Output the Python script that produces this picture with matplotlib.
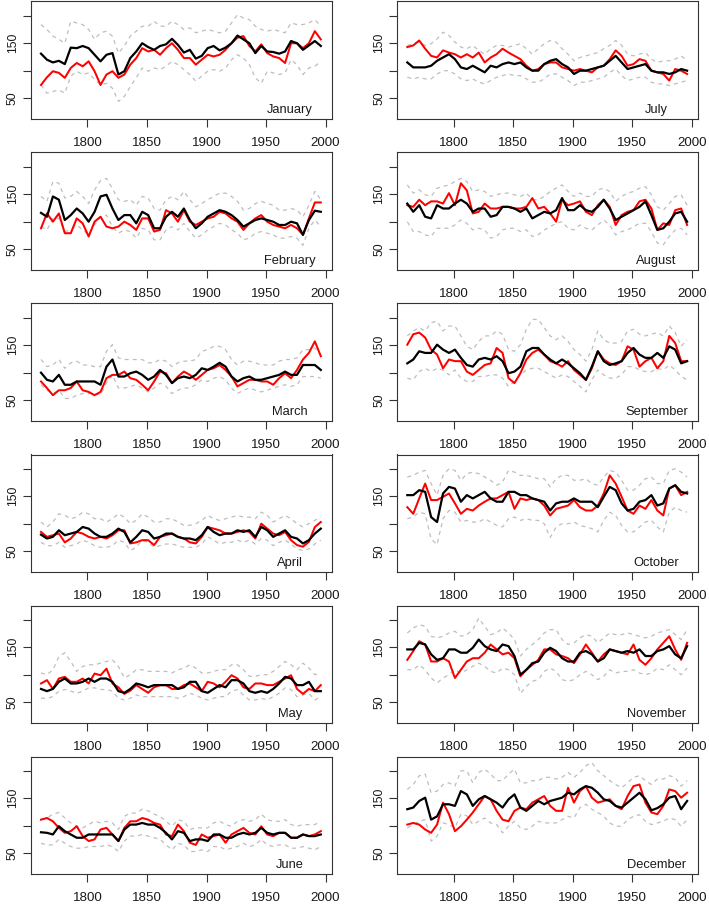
import matplotlib
matplotlib.use('Agg')
import matplotlib.pyplot as plt

plt.rcParams['font.family'] = ['Liberation Sans', 'DejaVu Sans']

years = list(range(1761, 1997, 5))

# ---------------- January ----------------
jan_black = [131,120,115,118,112,142,141,145, 141,129,117,129,132,93,99,123,
             135,150,143,138,145,148,158,147, 133,138,122,127,141,145,137,142,
             150,164,157,150,132,145,135,134, 131,135,154,150,138,146,154,145]
jan_red = [74,88,99,96,87,105,114,108, 117,99,74,93,99,87,93,111,
           123,141,135,138,129,141,150,138, 123,123,111,120,129,126,129,138,
           150,160,163,145,135,148,132,126, 123,114,150,150,141,150,172,157]
jan_upper = [184,175,163,157,150,190,187,184, 175,157,169,172,163,132,145,163,
             172,181,181,190,181,181,190,184, 175,178,169,172,175,172,169,172,
             187,202,196,193,181,175,172,175, 172,169,187,184,184,187,193,181]
jan_lower = [74,59,62,65,59,90,99,93, 96,84,74,77,68,44,53,71,
             87,105,99,105,102,108,117,111, 102,93,81,90,99,102,99,105,
             120,129,123,111,87,77,99,96, 93,96,120,111,93,105,108,117]

# ---------------- February ----------------
feb_black = [116,109,146,140,103,112,124,115, 100,118,146,149,124,103,112,112,
             97,118,112,88,88,109,118,109, 124,103,88,97,109,115,121,118,
             112,103,91,97,103,106,103,100, 94,94,100,97,76,103,120,118]
feb_red = [88,115,100,115,79,79,106,97, 73,100,109,91,88,91,100,94,
           85,106,106,82,85,121,115,100, 121,100,94,100,106,109,118,115,
           106,100,85,97,106,112,100,94, 91,88,94,88,76,106,135,135]
feb_upper = [146,137,173,170,143,146,155,146, 133,158,175,179,160,140,137,140,
             130,146,143,124,121,140,146,140, 155,140,127,133,140,146,152,152,
             146,137,121,124,133,137,133,130, 121,121,124,121,109,130,155,140]
feb_lower = [91,85,106,106,82,85,94,85, 76,94,109,112,91,79,85,82,
             70,88,85,67,67,85,91,85, 97,82,70,76,85,91,97,94,
             85,79,67,70,79,82,79,76, 70,70,73,70,57,88,103,91]

# ---------------- March ----------------
mar_black = [100,87,84,96,78,78,84,84, 84,84,78,111,124,93,93,99,
             102,96,87,93,105,96,81,90, 93,90,96,108,105,111,118,111,
             93,84,90,93,87,87,90,93, 96,102,96,96,114,114,114,105]
mar_red = [84,72,59,68,68,72,84,68, 65,59,65,90,96,96,102,90,
           87,78,68,84,102,99,81,93, 102,96,87,96,105,108,114,105,
           93,75,81,87,87,84,84,78, 90,99,90,105,124,136,157,130]
mar_upper = [124,111,114,124,108,118,121,114, 114,111,111,139,151,127,124,124,
             124,124,118,118,124,121,111,118, 121,121,124,139,142,148,148,142,
             124,114,121,121,118,114,114,114, 121,124,124,127,142,142,145,133]
mar_lower = [78,68,62,68,53,53,59,62, 62,62,59,81,96,72,72,75,
             78,72,65,72,81,75,62,68, 72,72,78,87,84,90,93,87,
             72,62,68,72,68,65,68,72, 75,78,75,78,93,93,93,90]

# ---------------- April ----------------
apr_black = [80,73,76,88,79,82,85,94, 91,82,76,76,82,91,85,66,
             76,88,85,73,76,82,82,76, 73,73,70,79,94,85,79,82,
             82,88,85,88,76,94,88,76, 82,88,76,73,64,70,82,91]
apr_red = [85,76,79,82,66,73,85,82, 76,73,76,73,79,88,88,64,
           66,70,70,61,76,79,82,76, 73,66,64,76,94,91,88,82,
           82,85,88,85,73,100,91,82, 79,85,70,61,58,67,94,103]
apr_upper = [103,94,103,118,115,109,112,121, 118,109,109,103,109,118,112,100,
             106,118,112,103,103,109,109,103, 97,97,100,106,115,109,106,109,
             112,115,112,112,109,121,115,103, 109,115,109,100,94,100,106,112]
apr_lower = [66,60,60,66,57,60,63,70, 66,60,57,57,60,70,66,51,
             57,70,66,57,60,63,63,60, 57,57,57,63,76,70,63,66,
             66,70,66,70,63,73,70,60, 66,70,63,54,51,54,63,70]

# ---------------- May ----------------
may_black = [74,70,74,87,93,84,84,87, 93,87,93,93,87,70,67,74,
             84,81,77,81,81,81,81,74, 77,87,87,70,67,74,81,77,
             90,90,84,70,67,70,67,74, 84,96,93,81,81,87,70,70]
may_red = [84,90,74,93,96,87,87,93, 84,102,99,111,84,77,65,71,
           81,74,67,77,81,81,74,74, 81,84,77,70,87,84,77,87,
           99,93,77,74,84,84,81,81, 87,93,99,74,65,74,70,81]
may_upper = [103,100,109,133,140,124,106,115, 118,118,121,124,127,115,94,100,
             109,109,106,106,106,106,103,109, 112,118,112,103,103,106,109,109,
             118,118,109,97,97,100,100,106, 115,124,118,109,121,112,100,103]
may_lower = [57,57,60,70,73,70,66,70, 76,76,73,73,70,57,54,57,
             63,60,60,60,60,60,60,57, 60,66,63,57,54,57,60,60,
             70,73,63,54,54,57,54,60, 66,76,73,60,63,66,54,60]

# ---------------- June ----------------
jun_black = [88,87,84,99,90,84,78,78, 84,84,84,84,84,72,93,102,
             102,105,102,102,96,87,75,90, 87,72,75,75,72,84,84,78,
             78,84,87,84,87,96,87,84, 87,87,78,78,84,81,81,84]
jun_red = [111,114,108,96,87,90,99,81, 72,75,93,96,84,72,96,108,
           108,114,111,105,102,84,81,102, 90,69,65,84,78,81,84,69,
           84,90,96,87,84,99,84,81, 87,87,78,78,84,81,84,90]
jun_upper = [111,114,121,124,114,105,99,96, 102,108,105,108,105,93,117,123,
             123,130,127,121,117,108,99,111, 108,93,96,96,96,105,108,102,
             99,108,111,108,111,121,111,108, 108,111,102,99,102,102,102,108]
jun_lower = [68,65,65,75,68,62,59,59, 62,62,62,65,62,53,72,81,
             81,84,81,78,75,65,56,68, 65,53,53,56,53,62,62,56,
             59,62,68,62,65,75,65,62, 65,65,59,59,62,59,56,62]

# ---------------- July ----------------
jul_black = [115,106,106,106,109,118,124,130, 121,106,103,109,103,97,109,106,
             112,115,112,115,106,100,100,112, 118,121,112,106,94,100,100,103,
             106,109,118,127,115,103,106,109, 112,100,97,97,94,97,103,100]
jul_red = [143,146,155,140,127,124,137,133, 130,124,130,124,133,115,124,130,
           140,133,127,121,109,100,103,112, 115,115,106,103,100,103,100,97,
           106,109,121,137,127,109,112,121, 118,100,97,94,82,103,100,94]
jul_upper = [146,149,152,146,149,158,170,164, 152,143,140,146,137,130,140,146,
             146,143,146,149,140,130,140,149, 155,152,140,130,118,124,127,130,
             133,140,146,155,146,130,127,130, 133,121,115,118,118,121,127,118]
jul_lower = [88,85,88,85,85,94,100,100, 94,85,82,85,79,76,82,88,
             91,94,91,91,85,79,79,85, 94,94,88,82,73,79,79,82,
             85,88,97,103,91,82,85,88, 88,79,76,76,73,76,79,82]

# ---------------- August ----------------
aug_black = [133,118,130,109,106,130,124,124, 133,140,133,118,124,124,109,112,
             127,127,124,118,124,106,112,118, 115,121,143,121,121,130,121,118,
             127,140,124,103,109,115,121,127, 137,112,85,88,100,115,118,100]
aug_red = [130,127,140,130,137,137,133,152, 130,170,157,115,118,133,124,124,
           127,127,124,124,127,143,124,127, 115,100,140,130,133,137,118,112,
           130,140,127,94,112,118,121,137, 140,124,85,97,94,121,124,94]
aug_upper = [167,152,158,149,146,161,164,167, 173,179,173,155,158,155,146,149,
             152,152,149,146,152,140,140,146, 155,161,167,155,146,152,146,146,
             158,161,155,137,146,152,155,161, 164,149,127,121,133,146,149,130]
aug_lower = [100,82,82,76,73,88,88,88, 94,103,97,85,88,85,70,73,
             85,88,88,82,85,73,76,85, 91,97,100,88,85,94,88,85,
             94,103,94,76,82,85,91,97, 97,82,61,58,73,85,88,76]

# ---------------- September ----------------
sep_black = [117,124,139,136,136,151,142,136, 142,127,114,111,124,127,124,130,
             121,99,102,111,139,145,145,133, 124,117,124,117,108,99,87,111,
             139,121,114,117,121,136,145,133, 127,127,136,127,148,142,117,121]
sep_red = [151,170,173,164,142,133,108,124, 121,121,102,96,105,114,117,145,
           136,90,81,99,124,136,142,133, 121,117,111,121,105,96,87,108,
           139,124,117,114,121,148,142,111, 121,127,108,121,167,154,121,121]
sep_upper = [167,176,182,176,191,194,176,185, 185,167,148,142,157,167,167,176,
             170,142,139,151,179,197,197,182, 167,160,167,157,142,133,121,142,
             176,160,154,154,157,176,179,170, 167,170,173,167,185,173,148,160]
sep_lower = [90,87,102,108,102,108,105,96, 105,90,84,84,93,93,96,96,
             90,75,84,96,105,108,108,102, 96,90,96,93,84,75,65,87,
             105,96,90,90,96,111,111,105, 102,102,108,105,114,105,93,87]

# ---------------- October ----------------
oct_black = [152,152,161,158,112,103,155,167, 164,140,152,146,152,158,146,140,
             140,158,158,152,152,146,143,140, 124,137,140,140,146,140,140,140,
             130,149,167,161,137,124,127,140, 143,152,133,137,164,170,158,155]
oct_red = [130,118,146,173,143,143,149,155, 137,118,127,124,133,140,146,146,
           152,158,127,146,143,146,143,133, 115,127,130,133,143,130,124,124,
           133,155,188,173,149,124,118,133, 127,143,124,115,164,170,152,158]
oct_upper = [185,188,194,197,173,152,188,200, 197,179,191,194,191,185,179,170,
             176,197,194,188,188,185,182,182, 167,182,188,188,179,179,182,173,
             170,185,197,194,179,161,161,170, 182,185,173,173,197,200,194,185]
oct_lower = [109,112,121,118,72,62,109,124, 121,103,106,103,103,109,103,97,
             94,109,112,106,109,106,106,100, 75,94,100,100,103,97,94,91,
             85,106,121,115,97,85,85,94, 103,106,94,85,121,130,124,121]

# ---------------- November ----------------
nov_black = [146,146,158,155,137,127,130,146, 146,140,140,149,164,152,146,143,
             155,152,134,100,109,121,124,140, 149,143,130,124,124,140,143,137,
             124,130,146,143,140,143,140,146, 134,134,143,146,152,137,130,152]
nov_red = [127,143,161,155,124,124,130,124, 94,109,124,130,130,140,155,146,
           137,140,130,97,109,118,127,146, 146,137,134,130,121,137,155,140,
           124,137,146,143,140,137,155,127, 118,130,146,158,170,146,127,158]
nov_upper = [176,185,191,188,170,167,170,176, 179,170,173,182,203,188,173,176,
             185,176,164,134,146,155,164,176, 182,182,164,155,158,167,173,170,
             158,167,176,173,173,176,173,170, 167,170,176,179,182,173,164,182]
nov_lower = [109,109,118,109,94,85,94,100, 109,103,109,115,121,115,106,103,
             112,109,100,66,79,88,91,106, 112,106,91,88,91,100,106,100,
             91,97,109,103,106,106,109,103, 100,103,112,109,118,109,100,112]

# ---------------- December ----------------
dec_black = [130,133,145,151,111,117,139,139, 136,163,157,136,148,154,148,142,
             133,148,157,133,127,136,145,139, 145,148,151,160,157,166,172,169,
             160,148,145,136,133,142,151,160, 148,128,132,139,151,154,130,145]
dec_red = [102,105,102,93,87,102,142,121, 90,99,111,124,139,154,148,127,
           111,108,127,133,130,142,148,154, 136,127,127,169,142,163,172,151,
           142,145,148,136,130,154,172,175, 142,124,121,136,166,163,151,160]
dec_upper = [166,175,191,194,160,163,175,178, 172,200,200,178,197,203,194,182,
             182,194,203,178,178,182,182,188, 188,185,188,197,188,197,209,215,
             200,191,182,175,169,178,188,191, 182,175,185,185,191,188,172,182]
dec_lower = [96,102,108,111,72,81,105,102, 96,121,118,102,108,114,105,102,
             87,99,108,96,93,99,108,105, 105,105,111,117,114,133,139,130,
             124,117,105,99,99,111,117,120, 108,102,105,108,114,111,99,111]

month_names = ["January", "February", "March", "April", "May", "June",
               "July", "August", "September", "October", "November", "December"]
x_ticks = [1800, 1850, 1900, 1950, 2000]
y_ticks = [50, 100, 150, 200]
y_tick_labels = ["50", "", "150", ""]

series = [
    (jan_black, jan_red, jan_upper, jan_lower),
    (feb_black, feb_red, feb_upper, feb_lower),
    (mar_black, mar_red, mar_upper, mar_lower),
    (apr_black, apr_red, apr_upper, apr_lower),
    (may_black, may_red, may_upper, may_lower),
    (jun_black, jun_red, jun_upper, jun_lower),
    (jul_black, jul_red, jul_upper, jul_lower),
    (aug_black, aug_red, aug_upper, aug_lower),
    (sep_black, sep_red, sep_upper, sep_lower),
    (oct_black, oct_red, oct_upper, oct_lower),
    (nov_black, nov_red, nov_upper, nov_lower),
    (dec_black, dec_red, dec_upper, dec_lower),
]

W, H = 709.0, 905.0
fig = plt.figure(figsize=(W / 100, H / 100), dpi=100)
fig.patch.set_facecolor('white')

axis_col = '#333333'
text_col = '#1a1a1a'

for idx, name in enumerate(month_names):
    blk, red, up, lo = series[idx]
    col = idx // 6
    row = idx % 6
    left = 31.0 if col == 0 else 397.3
    top = 1.5 + 151.0 * row
    ax = fig.add_axes([left / W, 1 - (top + 117.5) / H, 301.0 / W, 117.5 / H])
    dash = (0, (3.2, 3.2))
    ax.plot(years, up, color='#BEBEBE', lw=0.9, ls=dash)
    ax.plot(years, lo, color='#BEBEBE', lw=0.9, ls=dash)
    ax.plot(years, red, color='#FF0000', lw=1.45)
    ax.plot(years, blk, color='black', lw=1.6)
    ax.set_xlim(1752.6, 2005.4)
    ax.set_ylim(12, 226)
    ax.set_xticks(x_ticks)
    ax.set_xticklabels([str(t) for t in x_ticks])
    ax.set_yticks(y_ticks)
    ax.set_yticklabels(y_tick_labels, rotation=90, va='center')
    for s in ax.spines.values():
        s.set_color(axis_col)
        s.set_linewidth(0.8)
    ax.tick_params(axis='x', direction='out', length=5.8, width=0.8,
                   color=axis_col, labelsize=9.6, labelcolor=text_col, pad=7.2)
    ax.tick_params(axis='y', direction='out', length=5.8, width=0.8,
                   color=axis_col, labelsize=8.8, labelcolor=text_col, pad=3.0)
    ax.text(0.861, 0.055, name, transform=ax.transAxes, ha='center',
            va='baseline', fontsize=9.3, color=text_col)

fig.savefig('out.png', dpi=100, facecolor='white')
